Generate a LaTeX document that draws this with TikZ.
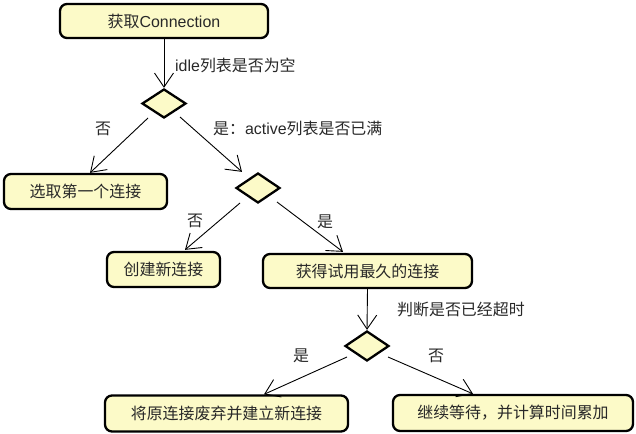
\documentclass[tikz,border=0pt]{standalone}
\usepackage{fontspec}
\setmainfont{Liberation Sans}
\newfontfamily\cjk{Noto Sans CJK SC}
\usetikzlibrary{arrows.meta,calc,shapes.geometric}
\definecolor{boxfill}{RGB}{252,250,200}
\definecolor{txt}{RGB}{40,40,40}
\tikzset{
  box/.style={draw=black, line width=2.3bp, rounded corners=7bp, fill=boxfill,
    inner sep=0pt, text=txt, font=\fontsize{16}{19}\selectfont},
  dia/.style={draw=black, line width=2.3bp, fill=boxfill, diamond, inner sep=0pt,
    minimum width=44bp, minimum height=29bp},
  arr/.style={line width=0.9bp, -{Straight Barb[length=14bp,width=19bp,line width=0.9bp]}},
  lbl/.style={text=txt, font=\fontsize{16}{19}\selectfont, inner sep=0pt}
}
\begin{document}
\begin{tikzpicture}[x=1bp,y=-1bp]
\useasboundingbox (0,0) rectangle (636,434);
\node[box, minimum width=208bp, minimum height=34bp] (b1) at (164,21) {{\cjk 获取}Connection};
\node[dia] (d1) at (164,103.5) {};
\node[box, minimum width=163bp, minimum height=35bp] (b2) at (85.5,191.5) {\cjk 选取第一个连接};
\node[dia, minimum height=30bp] (d2) at (258,188) {};
\node[box, minimum width=113bp, minimum height=35bp] (b3) at (163.5,269.5) {\cjk 创建新连接};
\node[box, minimum width=209bp, minimum height=34bp] (b4) at (367.5,271) {\cjk 获得试用最久的连接};
\node[dia, minimum height=30bp] (d3) at (367,346) {};
\node[box, minimum width=243bp, minimum height=36bp] (b5) at (226.5,413.5) {\cjk 将原连接废弃并建立新连接};
\node[box, minimum width=240bp, minimum height=36bp] (b6) at (513,413) {\cjk 继续等待，并计算时间累加};

\node[lbl, anchor=west] (l1) at (175,65) {idle{\cjk 列表是否为空}};
\node[lbl] (l2) at (103,129) {\cjk 否};
\node[lbl, anchor=west] (l3) at (213,128) {{\cjk 是：}active{\cjk 列表是否已满}};
\node[lbl] (l4) at (195,221) {\cjk 否};
\node[lbl] (l5) at (325,222) {\cjk 是};
\node[lbl, anchor=west] (l6) at (397,309) {\cjk 判断是否已经超时};
\node[lbl] (l7) at (301,356) {\cjk 是};
\node[lbl] (l8) at (436,356) {\cjk 否};

\draw[arr] (b1.south) -- (d1.north);
\draw[arr] ($(d1)+(-16,14.5)$) -- ($(b2.north)+(4.5,0)$);
\draw[arr] ($(d1)+(16,13.5)$) -- ($(d2.north)+(-16,0)$);
\draw[arr] ($(d2)+(-18,15)$) -- ($(b3.north)+(21.5,-1)$);
\draw[arr] ($(d2)+(19,14)$) -- ($(b4.north)+(-24.5,-1)$);
\draw[arr] (b4.south) -- (d3.north);
\draw[arr] ($(d3)+(-20,11)$) -- ($(b5.north)+(37.5,0)$);
\draw[arr] ($(d3)+(21,11)$) -- ($(b6.north)+(-40,0)$);
\end{tikzpicture}
\end{document}
